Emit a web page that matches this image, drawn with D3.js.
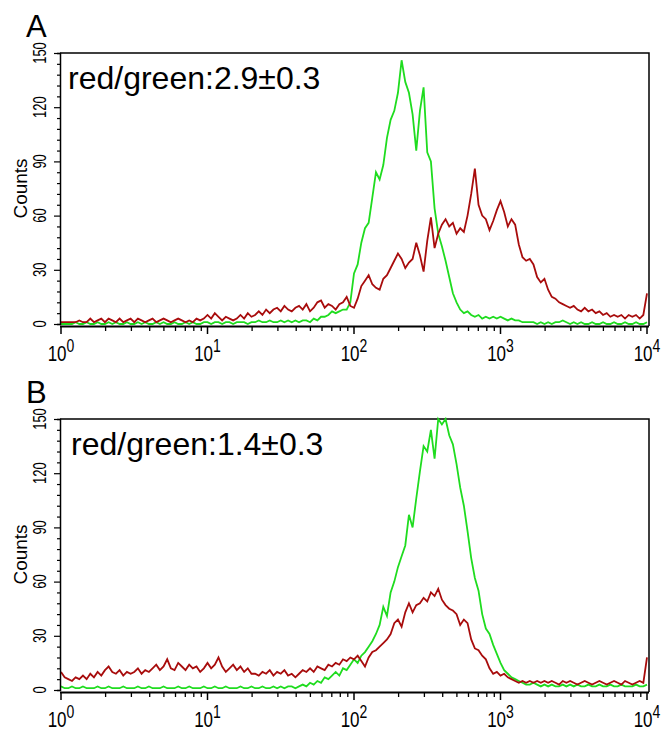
<!DOCTYPE html>
<html>
<head>
<meta charset="utf-8">
<script src="https://cdn.jsdelivr.net/npm/d3@7"></script>
<style>
  body { margin: 0; background: #fff; }
  svg { display: block; }
  text { font-family: "Liberation Sans", Arial, Helvetica, sans-serif; fill: #000; }
</style>
</head>
<body>
<div id="chart"></div>
<script>
// Histogram channels: one value every 0.025 decade, from 10^0 to 10^4
const binStep = 0.025;

// Panel A
const greenA = [
  0,0,0,0,1,0,0,1,0,0, 1,0,0,1,0,1,0,0,1,0, 0,1,0,1,0,0,1,0,1,0, 0,1,0,0,1,0,1,0,0,1,
  1,0,1,1,0,1,1,0,1,1, 1,0,1,1,2,1,1,2,1,1, 2,1,2,1,2,1,2,2,1,3, 2,4,4,5,7,6,7,8,8,12,
  28,33,45,53,56,70,84,80,88,103, 113,118,128,146,134,128,116,96,118,131,
  95,90,64,50,43,35,26,17,12,8, 6,7,5,4,5,3,4,3,4,3,
  4,3,2,3,2,2,1,1,1,1, 0,1,0,1,0,1,1,2,1,0, 1,0,1,0,0,1,0,0,1,0, 0,1,0,0,1,0,0,1,0,0, 1
];
const redA = [
  1,1,1,1,1,2,1,1,3,1, 2,3,1,3,2,1,3,1,2,3, 1,3,2,1,2,3,1,2,3,2, 1,2,3,2,1,2,1,3,2,3,
  5,3,6,4,2,4,3,2,3,5, 3,6,4,5,7,5,8,6,8,9, 7,10,8,7,9,10,8,11,7,9, 12,13,9,11,10,8,11,12,15,10,
  9,14,21,24,27,22,20,19,25,27, 31,35,39,36,31,34,36,45,38,29,
  46,59,42,50,55,58,54,56,50,53, 51,60,72,86,66,60,58,52,57,63,
  68,62,54,58,55,44,37,35,36,33, 26,23,25,19,15,14,12,11,10,9,
  10,8,7,9,7,8,6,7,5,6, 4,5,4,5,3,5,4,5,3,5, 17
];

// Panel B
const greenB = [
  2,1,1,2,1,1,2,1,1,1, 2,1,1,2,1,1,1,2,1,1, 1,2,1,1,2,1,1,1,2,1, 1,1,2,1,1,2,1,1,1,2,
  1,1,2,1,1,2,1,1,1,2, 1,1,2,1,1,2,1,1,2,1, 2,1,2,2,1,2,3,2,4,3, 5,4,7,6,8,10,8,12,11,14,
  17,15,19,21,24,27,31,36,46,41, 54,60,68,74,80,97,90,106,121,135,
  132,144,128,150,147,150,141,136,125,112, 102,88,73,62,55,42,34,31,25,20,
  15,11,9,7,6,5,4,3,3,4, 3,2,3,2,3,2,2,3,2,3,
  2,3,2,2,3,2,2,3,2,2, 3,2,2,3,2,2,2,3,2,2, 3
];
const redB = [
  10,7,6,5,7,6,8,6,9,7, 10,8,11,13,10,9,11,8,10,9, 10,12,9,11,10,12,14,11,13,17, 12,11,15,13,11,14,12,13,10,12,
  15,12,14,18,13,10,12,14,11,13, 10,12,9,9,8,10,9,11,8,10, 9,11,8,9,7,9,11,10,12,10, 13,12,11,14,13,15,14,17,16,18,
  17,19,16,13,18,21,22,24,26,28, 31,37,39,35,43,48,43,47,48,51,
  49,54,52,56,50,47,45,44,42,36, 39,37,28,23,22,19,17,12,9,10,
  8,9,7,6,5,4,5,4,5,4, 5,4,5,4,5,4,3,5,4,5,
  4,3,4,5,4,3,4,5,4,3, 4,5,4,3,5,4,3,4,5,4, 18
];

const yTicks = [0, 30, 60, 90, 120, 150];
const xDecades = [0, 1, 2, 3, 4];

const panels = [
  {letter: "A", note: "red/green:2.9\u00B10.3", green: greenA, red: redA, top: 53, zero: 324, noteX: 68},
  {letter: "B", note: "red/green:1.4\u00B10.3", green: greenB, red: redB, top: 419, zero: 690, noteX: 71}
];

const W = 668, H = 744;
const left = 61, right = 647;

const svg = d3.select("#chart").append("svg")
  .attr("width", W)
  .attr("height", H);

const x = d3.scaleLog()
  .domain([1, 1e4])
  .range([left, right]);

function drawPanel(p) {
  const g = svg.append("g");
  const y = d3.scaleLinear()
    .domain([0, 150])
    .range([p.zero, p.top]);
  const axisY = p.zero + 2;

  // panel letter
  g.append("text")
    .attr("x", 26)
    .attr("y", p.top - 16)
    .attr("font-size", 31)
    .text(p.letter);

  // frame (top + right)
  g.append("path")
    .attr("d", `M${left - 1},${p.top}H${right + 2}V${axisY}`)
    .attr("fill", "none")
    .attr("stroke", "#000")
    .attr("stroke-width", 1.5);

  // curves
  const line = d3.line()
    .x((d, i) => x(Math.pow(10, i * binStep)))
    .y(d => y(d));

  g.append("path")
    .datum(p.green)
    .attr("d", line)
    .attr("fill", "none")
    .attr("stroke", "#1fdc1f")
    .attr("stroke-width", 1.8);

  g.append("path")
    .datum(p.red)
    .attr("d", line)
    .attr("fill", "none")
    .attr("stroke", "#a80c0c")
    .attr("stroke-width", 1.8);

  // y axis
  const yAxis = d3.axisLeft(y)
    .tickValues(d3.range(0, 151, 6))
    .tickSize(3)
    .tickFormat("");
  const ya = g.append("g")
    .attr("transform", `translate(${left - 1},0)`)
    .call(yAxis);
  ya.select(".domain").attr("stroke-width", 1.5);
  ya.selectAll(".tick line")
    .attr("x2", d => yTicks.includes(d) ? -6 : -3)
    .attr("stroke-width", 1.2);

  yTicks.forEach(v => {
    g.append("text")
      .attr("transform", `translate(46,${y(v)}) rotate(-90) scale(1,1.4)`)
      .attr("text-anchor", "middle")
      .attr("font-size", 13)
      .text(v);
  });

  g.append("text")
    .attr("transform", `translate(27,${(p.top + p.zero) / 2}) rotate(-90)`)
    .attr("text-anchor", "middle")
    .attr("font-size", 19)
    .text("Counts");

  // x axis
  const minor = [];
  for (let d = 0; d < 4; d++) {
    for (let k = 2; k <= 9; k++) minor.push(k * Math.pow(10, d));
  }
  const xa = g.append("g")
    .attr("transform", `translate(0,${axisY})`)
    .call(d3.axisBottom(x).tickValues(minor).tickSize(5).tickFormat(""));
  xa.select(".domain")
    .attr("d", `M${left - 1},0.5H${right + 2}`)
    .attr("stroke-width", 2.2);
  xa.selectAll(".tick line").attr("stroke-width", 1.3);

  xDecades.forEach(d => {
    const px = x(Math.pow(10, d));
    g.append("line")
      .attr("x1", px).attr("x2", px)
      .attr("y1", axisY).attr("y2", axisY + 8)
      .attr("stroke", "#000")
      .attr("stroke-width", 1.5);
    const t = g.append("text")
      .attr("transform", `translate(${px},${axisY + 35}) scale(1,1.3)`)
      .attr("text-anchor", "middle")
      .attr("font-size", 17);
    t.append("tspan").text("10");
    t.append("tspan")
      .attr("font-size", 14)
      .attr("dy", -7)
      .text(d);
  });

  // ratio note
  g.append("text")
    .attr("x", p.noteX)
    .attr("y", p.top + 36)
    .attr("font-size", 32)
    .text(p.note);
}

panels.forEach(drawPanel);
</script>
</body>
</html>
